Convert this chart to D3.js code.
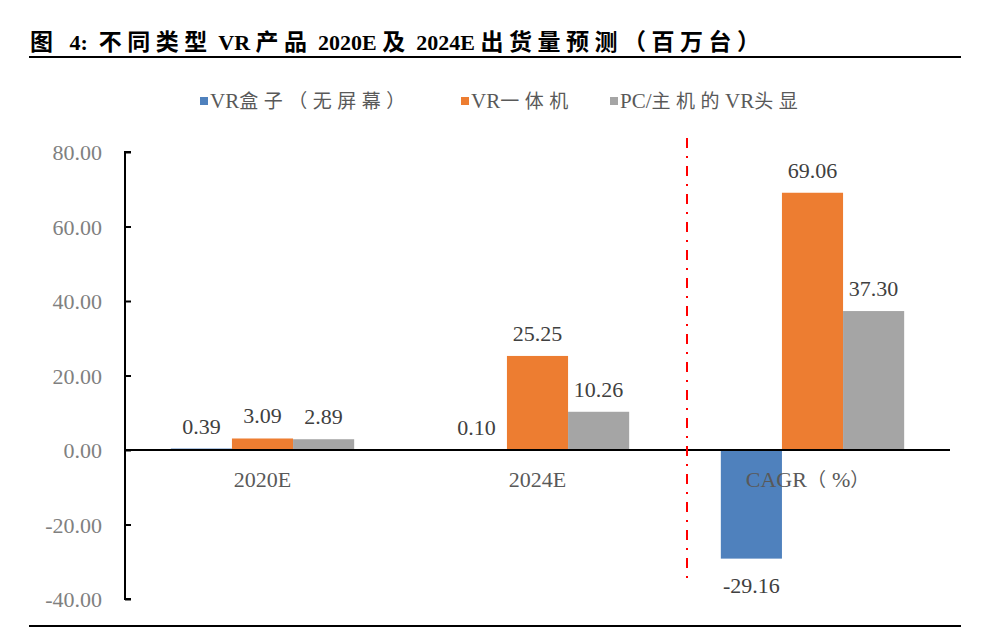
<!DOCTYPE html>
<html><head><meta charset="utf-8">
<script src="https://cdn.jsdelivr.net/npm/d3@7"></script>
<style>body{margin:0;background:#fff}</style>
</head><body>
<svg id="chart" width="1000" height="629"></svg>
<script>
const categories = ["2020E", "2024E", "CAGR（%）"];
const seriesNames = ["VR盒子（无屏幕）", "VR一体机", "PC/主机的VR头显"];
const seriesColors = ["#4f81bd", "#ed7d31", "#a5a5a5"];
const boxValues = [0.39, 0.10, -29.16];
const allInOneValues = [3.09, 25.25, 69.06];
const pcValues = [2.89, 10.26, 37.30];
const yTicks = [-40, -20, 0, 20, 40, 60, 80];
const titleText = "图  4:  不同类型 VR 产品 2020E 及 2024E 出货量预测（百万台）";

const series = [boxValues, allInOneValues, pcValues];
const svg = d3.select("#chart");
const serif = "'Liberation Serif','Times New Roman',serif";
const cjk = "'Noto Sans CJK SC',sans-serif";
const fmt = v => d3.format(".2f")(v).replace("\u2212", "-");

// mixed Latin / CJK text as tspans
function richText(sel, str, latinSize, cjkSize, cjkSpacing) {
  const runs = str.match(/[\u3000-\u9fff\uff00-\uffef]+|[^\u3000-\u9fff\uff00-\uffef]+/g);
  runs.forEach(r => {
    const isCjk = /[\u3000-\u9fff\uff00-\uffef]/.test(r);
    sel.append("tspan")
      .attr("font-family", isCjk ? cjk : serif)
      .attr("font-size", isCjk ? cjkSize : latinSize)
      .attr("letter-spacing", isCjk ? cjkSpacing : 0)
      .text(r);
  });
}

// title
const title = svg.append("text").attr("x", 30).attr("y", 50)
  .attr("font-weight", "bold").attr("fill", "#000").attr("xml:space", "preserve")
  .style("white-space", "pre");
richText(title, titleText, 22, 23, 5.5);
svg.append("line").attr("x1", 29).attr("x2", 961).attr("y1", 57).attr("y2", 57)
  .attr("stroke", "#000").attr("stroke-width", 2);
svg.append("line").attr("x1", 29).attr("x2", 961).attr("y1", 626).attr("y2", 626)
  .attr("stroke", "#000").attr("stroke-width", 2);

const x0 = d3.scaleBand().domain(categories).range([125, 950]).paddingInner(0).paddingOuter(0);
const x1 = d3.scaleBand().domain(d3.range(3)).range([0, x0.bandwidth()]).paddingInner(0).paddingOuter(0.75);
const y = d3.scaleLinear().domain([-40, 80]).range([599, 152]);

// y axis
const yAxis = d3.axisRight(y).tickValues(yTicks).tickSize(6).tickFormat("");
const gy = svg.append("g").attr("transform", "translate(125,0)").call(yAxis);
gy.select(".domain").attr("stroke", "#000").attr("stroke-width", 2).attr("d", "M6,152H0V599H6");
gy.selectAll(".tick line").attr("stroke", "#000").attr("stroke-width", 2);
svg.append("g").selectAll("text").data(yTicks).join("text")
  .attr("x", 102).attr("y", d => y(d) + 8).attr("text-anchor", "end")
  .attr("font-family", serif).attr("font-size", 22).attr("fill", "#808080")
  .text(d => fmt(d));

// bars
const groups = svg.append("g").selectAll("g").data(categories).join("g")
  .attr("transform", d => `translate(${x0(d)},0)`);
groups.each(function(cat, ci) {
  const g = d3.select(this);
  series.forEach((vals, si) => {
    const v = vals[ci];
    g.append("rect").attr("x", x1(si)).attr("width", x1.bandwidth())
      .attr("y", y(Math.max(0, v))).attr("height", Math.abs(y(v) - y(0)))
      .attr("fill", seriesColors[si]);
  });
});

// zero axis
svg.append("line").attr("x1", 125).attr("x2", 950).attr("y1", y(0)).attr("y2", y(0))
  .attr("stroke", "#000").attr("stroke-width", 2);

// category labels
svg.append("g").selectAll("text").data(categories).join("text")
  .attr("x", (d, i) => x0(d) + x0.bandwidth() / 2 - (i === 2 ? 2 : 0)).attr("y", 487).attr("text-anchor", "middle")
  .attr("fill", "#595959")
  .each(function(d) { richText(d3.select(this), d, 22, 19, 6); });

// data labels
groups.each(function(cat, ci) {
  const g = d3.select(this);
  series.forEach((vals, si) => {
    const v = vals[ci];
    g.append("text").attr("x", x1(si) + x1.bandwidth() / 2)
      .attr("y", v >= 0 ? y(v) - 15 : y(v) + 34)
      .attr("text-anchor", "middle").attr("font-family", serif).attr("font-size", 22)
      .attr("fill", "#404040").text(fmt(v));
  });
});

// red dash-dot separator
svg.append("line").attr("x1", 687).attr("x2", 687).attr("y1", 138).attr("y2", 586)
  .attr("stroke", "#ff0000").attr("stroke-width", 2).attr("stroke-dasharray", "10,8,2,8");

// legend
const legendX = [200, 461, 610];
const lg = svg.append("g").selectAll("g").data(seriesNames).join("g")
  .attr("transform", (d, i) => `translate(${legendX[i]},0)`);
lg.append("rect").attr("x", 0).attr("y", 97).attr("width", 8).attr("height", 8)
  .attr("fill", (d, i) => seriesColors[i]);
lg.append("text").attr("x", 10).attr("y", 108).attr("fill", "#595959")
  .each(function(d) { richText(d3.select(this), d, 21, 19, 5.5); });
</script>
</body></html>
